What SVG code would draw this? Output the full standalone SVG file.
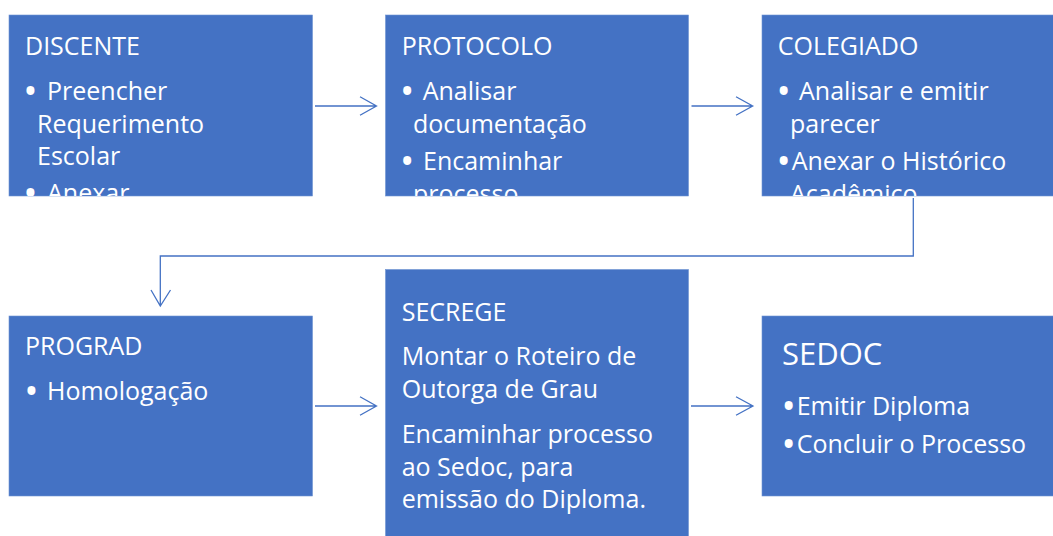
<svg xmlns="http://www.w3.org/2000/svg" width="1053" height="536" viewBox="0 0 1053 536">
<style>
.box{fill:#4472C4;stroke:#6f93d3;stroke-width:0.6}
.t{font-family:"Open Sans","Noto Sans","Liberation Sans",sans-serif;font-size:25px;fill:#ffffff}
.h2{font-size:31px}
.b{font-size:38px}
.con{fill:none;stroke:#4472C4;stroke-width:1.3}
</style>
<defs>
<clipPath id="c1"><rect x="9" y="15" width="303.5" height="181"/></clipPath>
<clipPath id="c2"><rect x="385.5" y="15" width="303" height="181"/></clipPath>
<clipPath id="c3"><rect x="762" y="15" width="291" height="181"/></clipPath>
</defs>
<rect width="1053" height="536" fill="#ffffff"/>
<g id="connectors">
<path class="con" d="M315,106 H376.5 M360,96.7 L376.5,106 L360,115.3"/>
<path class="con" d="M691.5,106 H752.7 M736,96.7 L752.7,106 L736,115.3"/>
<path class="con" d="M913.3,198 V256 H160.3 V306 M151,290 L160.3,306 L170.5,290"/>
<path class="con" d="M315,406 H376.5 M360,396.7 L376.5,406 L360,415.3"/>
<path class="con" d="M691,406 H753 M736,396.7 L753,406 L736,415.3"/>
</g>
<g id="discente">
<rect class="box" x="9" y="15" width="303.5" height="181"/>
<g clip-path="url(#c1)">
<text class="t" x="25" y="55">DISCENTE</text>
<text class="t"><tspan class="b" x="23.3" y="105.4">•</tspan><tspan x="47" y="100">Preencher</tspan><tspan x="37" y="132.5">Requerimento</tspan><tspan x="37" y="165">Escolar</tspan><tspan class="b" x="23.3" y="207.4">•</tspan><tspan x="47" y="202">Anexar</tspan></text>
</g>
</g>
<g id="protocolo">
<rect class="box" x="385.5" y="15" width="303" height="181"/>
<g clip-path="url(#c2)">
<text class="t" x="401.7" y="55">PROTOCOLO</text>
<text class="t"><tspan class="b" x="400" y="105.4">•</tspan><tspan x="422.7" y="100">Analisar</tspan><tspan x="413" y="132.5">documentação</tspan><tspan class="b" x="400" y="175.4">•</tspan><tspan x="423" y="170">Encaminhar</tspan><tspan x="413" y="202.5">processo</tspan></text>
</g>
</g>
<g id="colegiado">
<rect class="box" x="762" y="15" width="295" height="181"/>
<g clip-path="url(#c3)">
<text class="t" x="777.7" y="55">COLEGIADO</text>
<text class="t"><tspan class="b" x="776.6" y="105.4">•</tspan><tspan x="799" y="100">Analisar e emitir</tspan><tspan x="790" y="132.5">parecer</tspan><tspan class="b" x="776.6" y="175.4">•</tspan><tspan x="791.7" y="170">Anexar o Histórico</tspan><tspan x="790" y="202.5">Acadêmico</tspan></text>
</g>
</g>
<g id="prograd">
<rect class="box" x="9" y="316" width="303.5" height="180"/>
<text class="t" x="25" y="355">PROGRAD</text>
<text class="t"><tspan class="b" x="24.3" y="405.4">•</tspan><tspan x="47" y="400">Homologação</tspan></text>
</g>
<g id="secrege">
<rect class="box" x="385.5" y="269.5" width="303" height="270"/>
<text class="t" x="401.7" y="321">SECREGE</text>
<text class="t"><tspan x="401.7" y="365">Montar o Roteiro de</tspan><tspan x="401.7" y="397.5">Outorga de Grau</tspan></text>
<text class="t"><tspan x="401.7" y="443">Encaminhar processo</tspan><tspan x="401.7" y="475.5">ao Sedoc, para</tspan><tspan x="401.7" y="508">emissão do Diploma.</tspan></text>
</g>
<g id="sedoc">
<rect class="box" x="762" y="316" width="295" height="180"/>
<text class="t h2" x="782" y="365">SEDOC</text>
<text class="t"><tspan class="b" x="781.6" y="420.4">•</tspan><tspan x="796.7" y="415">Emitir Diploma</tspan><tspan class="b" x="781.6" y="458.4">•</tspan><tspan x="796.7" y="453">Concluir o Processo</tspan></text>
</g>
</svg>
